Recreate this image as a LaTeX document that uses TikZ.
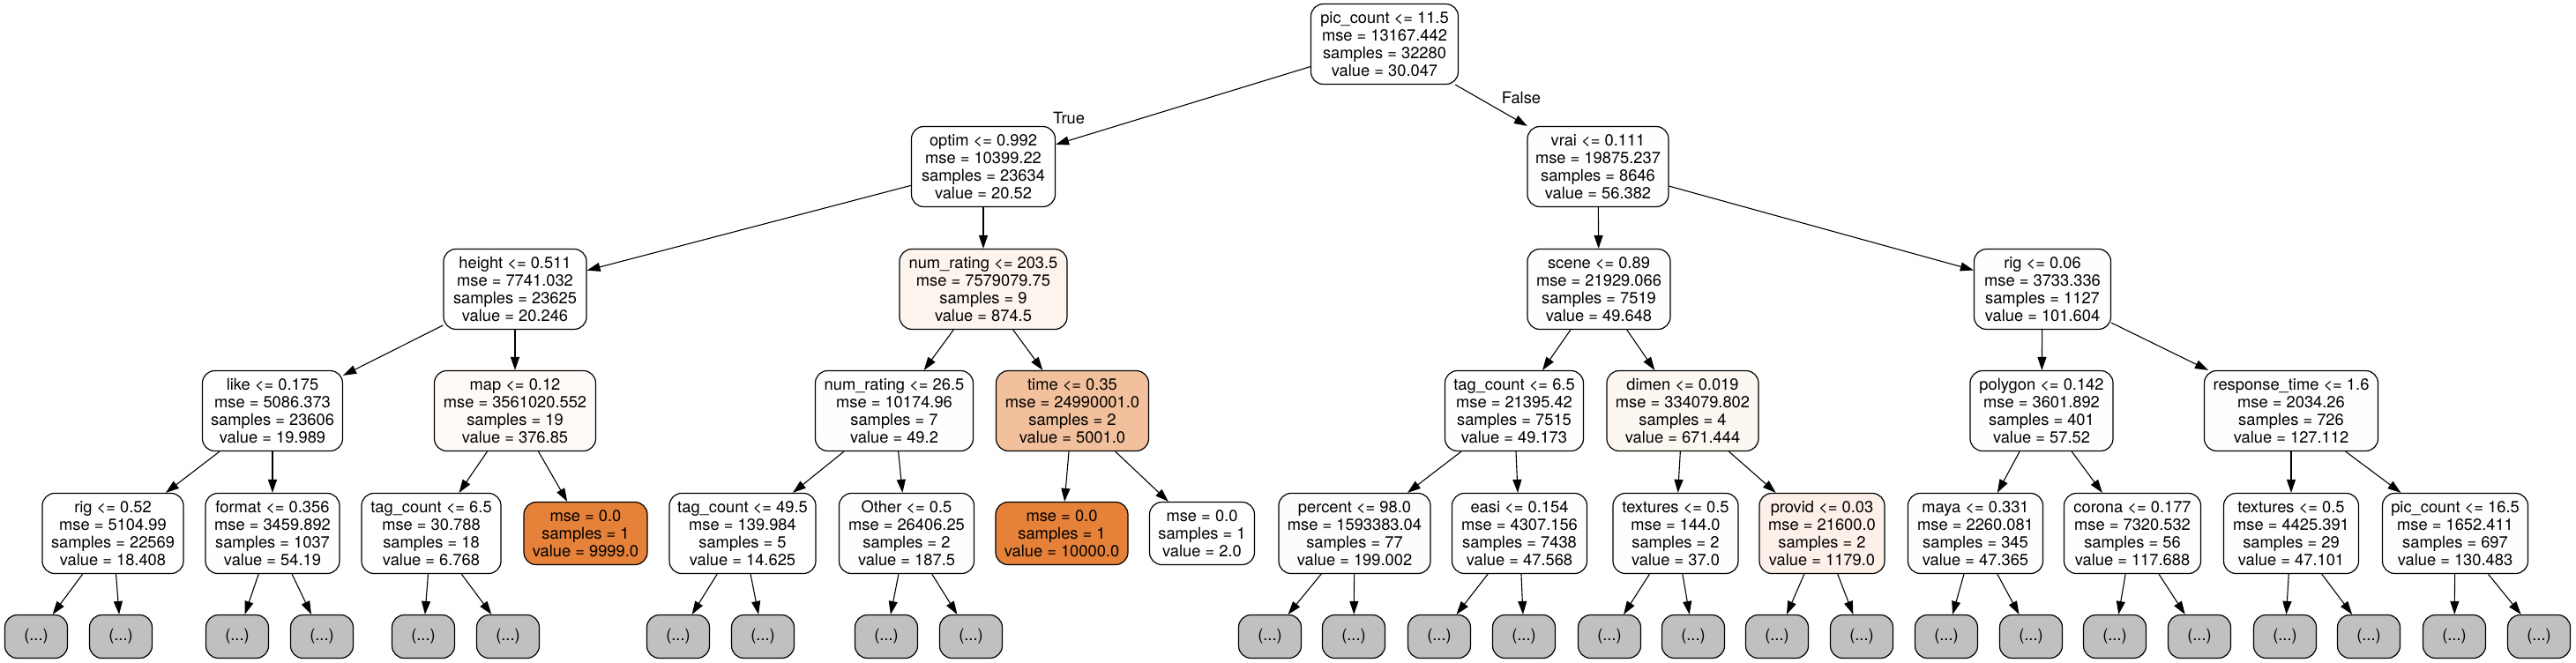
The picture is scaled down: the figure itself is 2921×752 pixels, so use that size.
\documentclass[tikz,border=0pt]{standalone}
\usepackage{fontspec}
\setmainfont{TeX Gyre Heros}
\usetikzlibrary{arrows.meta}
\definecolor{skor}{RGB}{229,129,57}
\definecolor{ellgray}{RGB}{192,192,192}
\newcommand\nodefont{\fontsize{18.3}{20}\selectfont}
\tikzset{
  tn/.style={draw=black, rounded corners=14pt, line width=1.2pt, align=center, font=\nodefont, inner xsep=4pt, inner ysep=0pt, minimum height=91pt},
  lf/.style={tn, minimum height=71pt},
  el/.style={tn, fill=ellgray, minimum width=71pt, minimum height=49pt},
  edge/.style={line width=1.1pt, -{Triangle[length=15pt,width=10pt]}},
  elabel/.style={font=\nodefont, inner sep=0pt}
}
\begin{document}
\begin{tikzpicture}[x=1pt,y=-1pt]
\useasboundingbox[fill=white] (0,0) rectangle (2921,752);
% level 0
\node[tn, minimum width=167pt, fill=skor!0.3!white] (root) at (1570,50) {pic\_count <= 11.5\\mse = 13167.442\\samples = 32280\\value = 30.047};
% level 1
\node[tn, minimum width=163pt, fill=skor!0.2!white] (optim) at (1115,189) {optim <= 0.992\\mse = 10399.22\\samples = 23634\\value = 20.52};
\node[tn, minimum width=160pt, fill=skor!0.6!white] (vrai) at (1812,189) {vrai <= 0.111\\mse = 19875.237\\samples = 8646\\value = 56.382};
% level 2
\node[tn, minimum width=162pt, fill=skor!0.2!white] (height) at (584,328) {height <= 0.511\\mse = 7741.032\\samples = 23625\\value = 20.246};
\node[tn, minimum width=190pt, fill=skor!8.7!white] (nra) at (1115,328) {num\_rating <= 203.5\\mse = 7579079.75\\samples = 9\\value = 874.5};
\node[tn, minimum width=162pt, fill=skor!0.5!white] (scene) at (1813,328) {scene <= 0.89\\mse = 21929.066\\samples = 7519\\value = 49.648};
\node[tn, minimum width=155pt, fill=skor!1.0!white] (riga) at (2316,328) {rig <= 0.06\\mse = 3733.336\\samples = 1127\\value = 101.604};
% level 3
\node[tn, minimum width=159pt, fill=skor!0.2!white] (like) at (309,466) {like <= 0.175\\mse = 5086.373\\samples = 23606\\value = 19.989};
\node[tn, minimum width=183pt, fill=skor!3.8!white] (map) at (584,466) {map <= 0.12\\mse = 3561020.552\\samples = 19\\value = 376.85};
\node[tn, minimum width=179pt, fill=skor!0.5!white] (nrb) at (1014,466) {num\_rating <= 26.5\\mse = 10174.96\\samples = 7\\value = 49.2};
\node[tn, minimum width=173pt, fill=skor!50!white] (time) at (1216,466) {time <= 0.35\\mse = 24990001.0\\samples = 2\\value = 5001.0};
\node[tn, minimum width=157pt, fill=skor!0.5!white] (taga) at (1717,466) {tag\_count <= 6.5\\mse = 21395.42\\samples = 7515\\value = 49.173};
\node[tn, minimum width=172pt, fill=skor!6.7!white] (dimen) at (1908,466) {dimen <= 0.019\\mse = 334079.802\\samples = 4\\value = 671.444};
\node[tn, minimum width=162pt, fill=skor!0.6!white] (polygon) at (2315,466) {polygon <= 0.142\\mse = 3601.892\\samples = 401\\value = 57.52};
\node[tn, minimum width=197pt, fill=skor!1.3!white] (resp) at (2598,466) {response\_time <= 1.6\\mse = 2034.26\\samples = 726\\value = 127.112};
% level 4
\node[tn, minimum width=160pt, fill=skor!0.2!white] (rigb) at (128,605) {rig <= 0.52\\mse = 5104.99\\samples = 22569\\value = 18.408};
\node[tn, minimum width=152pt, fill=skor!0.5!white] (format) at (309,605) {format <= 0.356\\mse = 3459.892\\samples = 1037\\value = 54.19};
\node[tn, minimum width=158pt, fill=skor!0.1!white] (tagb) at (489,605) {tag\_count <= 6.5\\mse = 30.788\\samples = 18\\value = 6.768};
\node[lf, minimum width=140pt, fill=skor] (lfa) at (664,605) {mse = 0.0\\samples = 1\\value = 9999.0};
\node[tn, minimum width=166pt, fill=skor!0.1!white] (tagc) at (842,605) {tag\_count <= 49.5\\mse = 139.984\\samples = 5\\value = 14.625};
\node[tn, minimum width=153pt, fill=skor!1.9!white] (other) at (1028,605) {Other <= 0.5\\mse = 26406.25\\samples = 2\\value = 187.5};
\node[lf, minimum width=150pt, fill=skor] (lfb) at (1204,605) {mse = 0.0\\samples = 1\\value = 10000.0};
\node[lf, minimum width=119pt, fill=white] (lfc) at (1363,605) {mse = 0.0\\samples = 1\\value = 2.0};
\node[tn, minimum width=172pt, fill=skor!2.0!white] (percent) at (1536,605) {percent <= 98.0\\mse = 1593383.04\\samples = 77\\value = 199.002};
\node[tn, minimum width=153pt, fill=skor!0.5!white] (easi) at (1723,605) {easi <= 0.154\\mse = 4307.156\\samples = 7438\\value = 47.568};
\node[tn, minimum width=142pt, fill=skor!0.4!white] (texa) at (1900,605) {textures <= 0.5\\mse = 144.0\\samples = 2\\value = 37.0};
\node[tn, minimum width=142pt, fill=skor!11.8!white] (provid) at (2066,605) {provid <= 0.03\\mse = 21600.0\\samples = 2\\value = 1179.0};
\node[tn, minimum width=153pt, fill=skor!0.5!white] (maya) at (2240,605) {maya <= 0.331\\mse = 2260.081\\samples = 345\\value = 47.365};
\node[tn, minimum width=155pt, fill=skor!1.2!white] (corona) at (2418,605) {corona <= 0.177\\mse = 7320.532\\samples = 56\\value = 117.688};
\node[tn, minimum width=153pt, fill=skor!0.5!white] (texb) at (2598,605) {textures <= 0.5\\mse = 4425.391\\samples = 29\\value = 47.101};
\node[tn, minimum width=165pt, fill=skor!1.3!white] (picb) at (2784,605) {pic\_count <= 16.5\\mse = 1652.411\\samples = 697\\value = 130.483};
% level 5 (ellipsis)
\foreach \n/\x in {e1/41,e2/137,e3/269,e4/365,e5/480,e6/576,e7/769,e8/865,e9/1005,e10/1101,e11/1440,e12/1535,e13/1632,e14/1728,e15/1825,e16/1920,e17/2015,e18/2111,e19/2207,e20/2303,e21/2398,e22/2494,e23/2591,e24/2686,e25/2783,e26/2879}
  \node[el] (\n) at (\x,722) {(...)};
% edges
\draw[edge] (root) -- (optim);
\draw[edge] (root) -- (vrai);
\node[elabel] (truelab) at (1212,134) {True};
\node[elabel] (falselab) at (1725,111) {False};
\draw[edge] (optim) -- (height);
\draw[edge] (optim) -- (nra);
\draw[edge] (vrai) -- (scene);
\draw[edge] (vrai) -- (riga);
\draw[edge] (height) -- (like);
\draw[edge] (height) -- (map);
\draw[edge] (nra) -- (nrb);
\draw[edge] (nra) -- (time);
\draw[edge] (scene) -- (taga);
\draw[edge] (scene) -- (dimen);
\draw[edge] (riga) -- (polygon);
\draw[edge] (riga) -- (resp);
\draw[edge] (like) -- (rigb);
\draw[edge] (like) -- (format);
\draw[edge] (map) -- (tagb);
\draw[edge] (map) -- (lfa);
\draw[edge] (nrb) -- (tagc);
\draw[edge] (nrb) -- (other);
\draw[edge] (time) -- (lfb);
\draw[edge] (time) -- (lfc);
\draw[edge] (taga) -- (percent);
\draw[edge] (taga) -- (easi);
\draw[edge] (dimen) -- (texa);
\draw[edge] (dimen) -- (provid);
\draw[edge] (polygon) -- (maya);
\draw[edge] (polygon) -- (corona);
\draw[edge] (resp) -- (texb);
\draw[edge] (resp) -- (picb);
\draw[edge] (rigb) -- (e1);
\draw[edge] (rigb) -- (e2);
\draw[edge] (format) -- (e3);
\draw[edge] (format) -- (e4);
\draw[edge] (tagb) -- (e5);
\draw[edge] (tagb) -- (e6);
\draw[edge] (tagc) -- (e7);
\draw[edge] (tagc) -- (e8);
\draw[edge] (other) -- (e9);
\draw[edge] (other) -- (e10);
\draw[edge] (percent) -- (e11);
\draw[edge] (percent) -- (e12);
\draw[edge] (easi) -- (e13);
\draw[edge] (easi) -- (e14);
\draw[edge] (texa) -- (e15);
\draw[edge] (texa) -- (e16);
\draw[edge] (provid) -- (e17);
\draw[edge] (provid) -- (e18);
\draw[edge] (maya) -- (e19);
\draw[edge] (maya) -- (e20);
\draw[edge] (corona) -- (e21);
\draw[edge] (corona) -- (e22);
\draw[edge] (texb) -- (e23);
\draw[edge] (texb) -- (e24);
\draw[edge] (picb) -- (e25);
\draw[edge] (picb) -- (e26);
\end{tikzpicture}
\end{document}
